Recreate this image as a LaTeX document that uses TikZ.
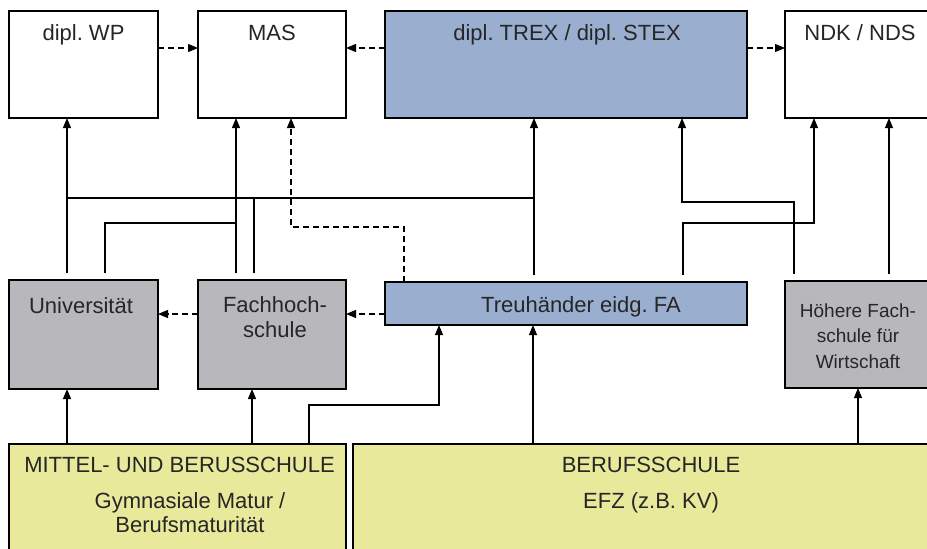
\documentclass[tikz,border=0pt]{standalone}
\usepackage{fontspec}
\setmainfont{Liberation Sans}
\usetikzlibrary{arrows.meta,calc}
\definecolor{bluef}{HTML}{9AAFCF}
\definecolor{greyf}{HTML}{B8B7BC}
\definecolor{yelf}{HTML}{E8E99A}
\definecolor{txtc}{HTML}{262626}
\begin{document}
\begin{tikzpicture}[x=1pt,y=-1pt,
  box/.style={draw=black,line width=1.8pt,rectangle,inner sep=0pt,outer sep=0pt},
  whitebox/.style={box,fill=white},
  bluebox/.style={box,fill=bluef},
  greybox/.style={box,fill=greyf},
  yelbox/.style={box,fill=yelf},
  lab/.style={anchor=base,inner sep=0pt,text=txtc,font=\fontsize{22}{25}\selectfont},
  smlab/.style={lab,font=\fontsize{19}{25}\selectfont},
  conn/.style={line width=1.1pt,draw=black},
  arr/.style={conn,-{Triangle[length=10pt,width=8pt]}},
  darr/.style={arr,dash pattern=on 6pt off 4pt},
  up/.style={shorten <=7pt}
]
\useasboundingbox (0,0) rectangle (927,549);
\clip (0,0) rectangle (927,549);

% top row
\node[whitebox,minimum width=149pt,minimum height=107pt] (wp) at (83.5,64.5) {};
\node[whitebox,minimum width=148pt,minimum height=107pt] (mas) at (272,64.5) {};
\node[bluebox,minimum width=362pt,minimum height=107pt] (trex) at (566,64.5) {};
\node[whitebox,minimum width=150pt,minimum height=107pt] (ndk) at (860,64.5) {};
% middle row
\node[greybox,minimum width=149pt,minimum height=109pt] (uni) at (83.5,334.5) {};
\node[greybox,minimum width=148pt,minimum height=109pt] (fh) at (272,334.5) {};
\node[bluebox,minimum width=362pt,minimum height=43pt] (treu) at (566,303.5) {};
\node[greybox,minimum width=150pt,minimum height=107pt] (hfs) at (860,334.5) {};
% bottom row
\node[yelbox,minimum width=337pt,minimum height=120pt] (mittel) at (177.5,504) {};
\node[yelbox,minimum width=596pt,minimum height=120pt] (beruf) at (651,504) {};

% texts
\node[lab] (twp) at (83.5,40) {dipl.\ WP};
\node[lab] (tmas) at (272,40) {MAS};
\node[lab] (ttrex) at (567,40) {dipl.\ TREX / dipl.\ STEX};
\node[lab] (tndk) at (860,40) {NDK / NDS};
\node[lab] (tuni) at (81,313) {Universität};
\node[lab] (tfh1) at (275,312) {Fachhoch-};
\node[lab] (tfh2) at (275,337) {schule};
\node[lab] (ttreu) at (581,312) {Treuhänder eidg.\ FA};
\node[smlab] (thfs1) at (858,317) {Höhere Fach-};
\node[smlab] (thfs2) at (858,342) {schule für};
\node[smlab] (thfs3) at (858,368) {Wirtschaft};
\node[lab] (tmit1) at (179.5,472) {MITTEL- UND BERUSSCHULE};
\node[lab] (tmit2) at (190,508) {Gymnasiale Matur /};
\node[lab] (tmit3) at (190,532) {Berufsmaturität};
\node[lab] (tber1) at (651,472) {BERUFSSCHULE};
\node[lab] (tber2) at (651,508) {EFZ (z.B. KV)};

% dashed horizontal arrows
\draw[darr] (wp.east |- 0,48) -- (mas.west |- 0,48);
\draw[darr] (trex.west |- 0,48) -- (mas.east |- 0,48);
\draw[darr] (trex.east |- 0,48) -- (ndk.west |- 0,48);
\draw[darr] (fh.west |- 0,314) -- (uni.east |- 0,314);
\draw[darr] (treu.west |- 0,314) -- (fh.east |- 0,314);

% middle row upwards
\coordinate (jl) at (67,198);
\coordinate (jr) at (534,198);
\draw[arr,up] (67,0 |- uni.north) -- (67,0 |- wp.south);
\draw[conn] (jl) -- (jr);
\draw[conn,up] (105,0 |- uni.north) |- (236,223);
\draw[arr,up] (236,0 |- fh.north) -- (236,0 |- mas.south);
\draw[conn,up] (254,0 |- fh.north) -- (254,198);
\draw[arr,up] (534,0 |- treu.north) -- (534,0 |- trex.south);
\draw[darr] (404,0 |- treu.north) |- (291,227) -- (291,0 |- mas.south);
\draw[arr,up] (683,0 |- treu.north) |- (814,223) -- (814,0 |- ndk.south);
\draw[arr,up] (794,0 |- hfs.north) |- (682,202) -- (682,0 |- trex.south);
\draw[arr,up] (889,0 |- hfs.north) -- (889,0 |- ndk.south);

% bottom row upwards
\draw[arr] (67,0 |- mittel.north) -- (67,0 |- uni.south);
\draw[arr] (252,0 |- mittel.north) -- (252,0 |- fh.south);
\draw[arr] (309,0 |- mittel.north) |- (439,405) -- (439,0 |- treu.south);
\draw[arr] (533,0 |- beruf.north) -- (533,0 |- treu.south);
\draw[arr] (858,0 |- beruf.north) -- (858,0 |- hfs.south);
\end{tikzpicture}
\end{document}
